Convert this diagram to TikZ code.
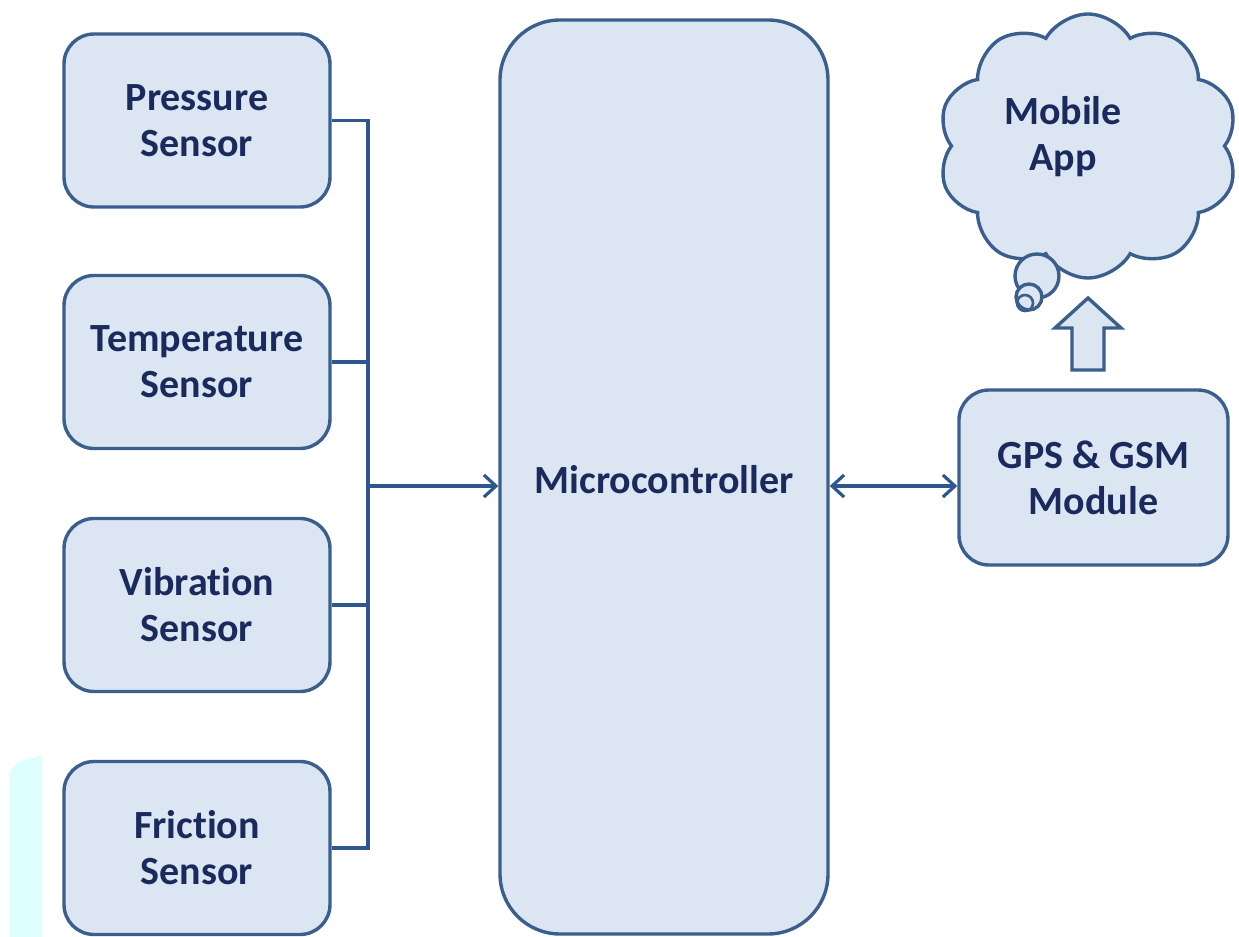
\documentclass[tikz,border=0pt]{standalone}
\usepackage{fontspec}
\setmainfont{Carlito}[Ligatures=NoCommon]
\usetikzlibrary{arrows.meta,shapes.symbols,calc}
\definecolor{boxfill}{HTML}{DCE6F2}
\definecolor{boxline}{HTML}{3A5F8C}
\definecolor{wire}{HTML}{2E578F}
\definecolor{txt}{HTML}{1B2A5C}
\definecolor{strip}{HTML}{DDFFFF}
\begin{document}
\begin{tikzpicture}[x=0.5pt,y=-0.5pt,
  lbl/.style={text=txt, font=\fontsize{20}{23}\selectfont\bfseries, align=center},
  blockbox/.style={draw=boxline, fill=boxfill, line width=1.7pt, rounded corners=15pt,
    lbl, inner sep=0pt},
  sensorbox/.style={blockbox, minimum width=133pt, minimum height=86.5pt},
  wireline/.style={draw=wire, line width=1.6pt},
  barb/.tip={Straight Barb[length=6pt,width=11pt,line width=1.6pt]},
  outline/.style={draw=boxline, fill=boxfill, line width=1.7pt}
]
\useasboundingbox (0,0) rectangle (1239,937);
\fill[strip] (10,775) to[out=90,in=200] (42,755) -- (42,937) -- (10,937) -- cycle;

\node[sensorbox] (p) at (197,120.5) {Pressure\\Sensor};
\node[sensorbox] (t) at (197,362) {Temperature\\Sensor};
\node[sensorbox] (v) at (197,605) {Vibration\\Sensor};
\node[sensorbox] (f) at (197,848) {Friction\\Sensor};

\node[blockbox, minimum width=164pt, minimum height=457pt, rounded corners=30pt] (mc) at (664,477) {};
\node[lbl] (mclabel) at (664,480) {Microcontroller};

\node[blockbox, minimum width=134.5pt, minimum height=87.5pt] (gps) at (1093.5,477.5) {GPS \& GSM\\Module};

\coordinate (bus) at (368,486);
\draw[wireline] (p.east) -- (p.east -| bus) -- (f.east -| bus) -- (f.east);
\draw[wireline] (t.east) -- (t.east -| bus);
\draw[wireline] (v.east) -- (v.east -| bus);
\draw[wireline, -barb] (bus) -- (bus -| mc.west);
\draw[wireline, barb-barb] (bus -| mc.east) -- (bus -| gps.west);

% cloud
\node[cloud, cloud puffs=10, cloud puff arc=120, cloud ignores aspect, outline,
  minimum width=150pt, minimum height=132pt, inner sep=0pt] (cloud) at (1088,146) {};
\node[lbl] (app) at (1063,137) {Mobile\\App};
\draw[outline] (1037,276) circle[radius=11pt];
\draw[outline] (1029,297) circle[radius=6.5pt];
\draw[draw=boxline, line width=1.3pt] (1025,303) circle[radius=4pt];

% block arrow
\draw[outline]
  (1072,370) -- (1072,328) -- (1055,328) -- (1088,298) -- (1121,328) -- (1104,328) -- (1104,370) -- cycle;
\end{tikzpicture}
\end{document}
